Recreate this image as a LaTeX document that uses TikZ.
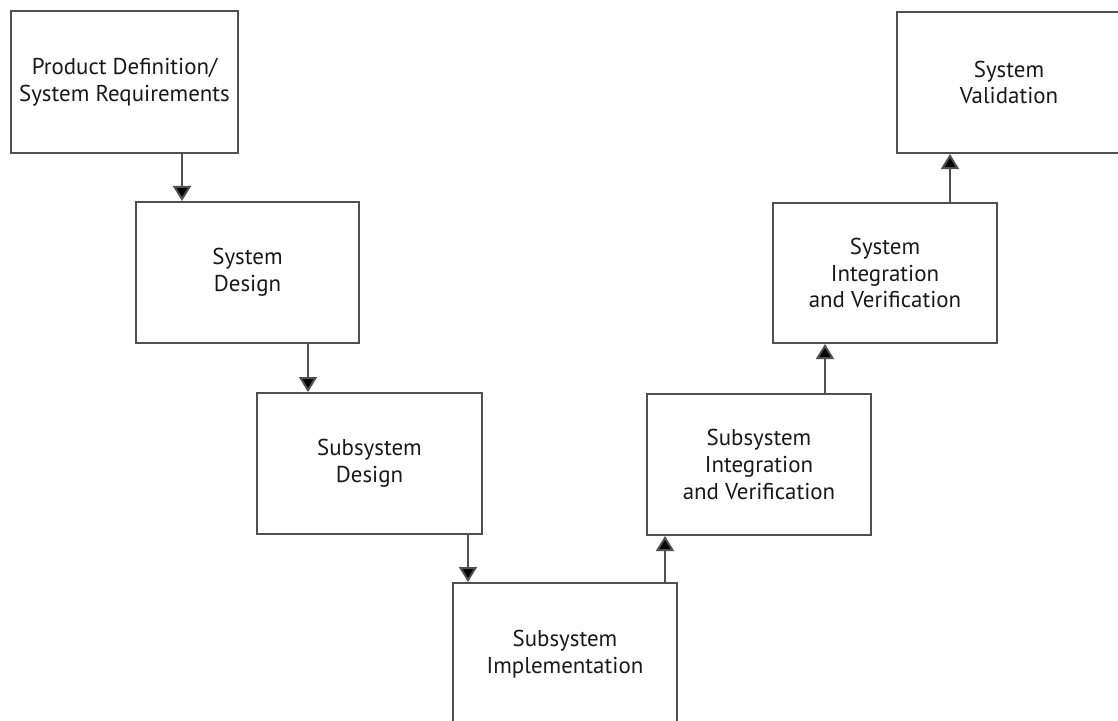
\documentclass[tikz,border=0pt]{standalone}
\usepackage{fontspec}
\setmainfont{PT Sans}
\usetikzlibrary{arrows.meta}
\definecolor{edge}{RGB}{80,80,80}
\tikzset{
  stagebox/.style={draw=edge, line width=2bp, fill=white, minimum width=224bp, minimum height=141bp,
    inner sep=0pt, align=center, font=\fontsize{23}{27}\selectfont, text=black!90},
  flow/.style={draw=edge, line width=2bp, -{Triangle[width=18bp,length=15bp,fill=black]}}
}
\begin{document}
\begin{tikzpicture}[x=1bp,y=-1bp]
\useasboundingbox (0,0) rectangle (1118,721);
\fill[white] (0,0) rectangle (1118,721);
\clip (0,0) rectangle (1118,721);
\node[stagebox, minimum width=227bp, minimum height=142bp] (b1) at (124.5,82) {Product Definition/\\System Requirements};
\node[stagebox, minimum width=223bp] (b2) at (247.5,272.5) {System\\Design};
\node[stagebox, minimum width=225bp] (b3) at (369.5,463.5) {Subsystem\\Design};
\node[stagebox, minimum height=142bp] (b4) at (565,654) {Subsystem\\Implementation};
\node[stagebox] (b5) at (759,464.5) {Subsystem\\Integration\\and Verification};
\node[stagebox, minimum height=140bp] (b6) at (885,273) {System\\Integration\\and Verification};
\node[stagebox] (b7) at (1009,82.5) {System\\Validation};
\coordinate (x1) at (182,0);
\coordinate (x2) at (308,0);
\coordinate (x3) at (468,0);
\coordinate (x4) at (665,0);
\coordinate (x5) at (825,0);
\coordinate (x6) at (950,0);
\draw[flow] (b1.south -| x1) -- (b2.north -| x1);
\draw[flow] (b2.south -| x2) -- (b3.north -| x2);
\draw[flow] (b3.south -| x3) -- (b4.north -| x3);
\draw[flow] (b4.north -| x4) -- (b5.south -| x4);
\draw[flow] (b5.north -| x5) -- (b6.south -| x5);
\draw[flow] (b6.north -| x6) -- (b7.south -| x6);
\end{tikzpicture}
\end{document}
